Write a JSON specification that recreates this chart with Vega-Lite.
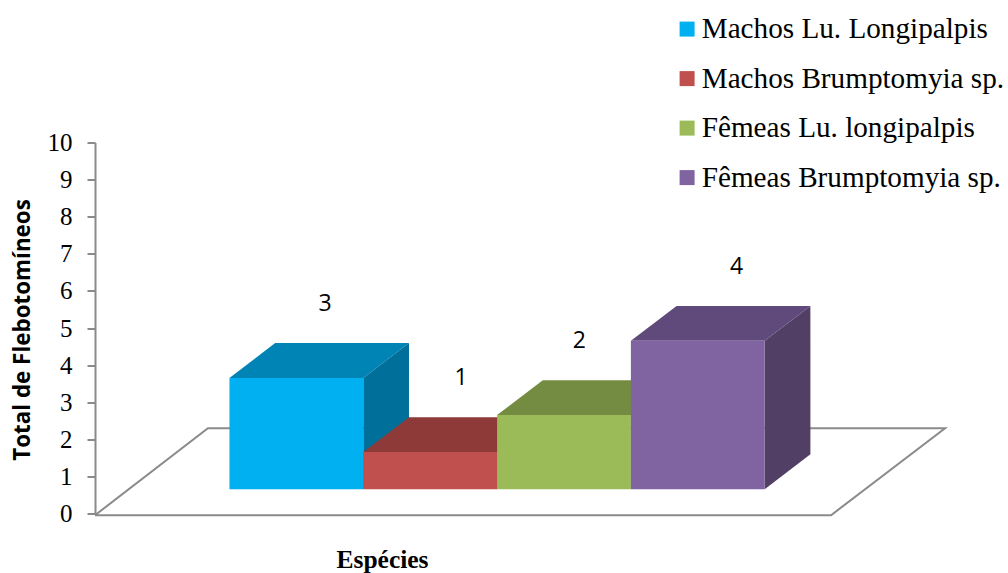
{
  "$schema": "https://vega.github.io/schema/vega-lite/v6.json",
  "width": 908,
  "height": 371,
  "padding": {"left": 95, "top": 142.5, "right": 5, "bottom": 59.5},
  "autosize": {"type": "none"},
  "background": "white",
  "config": {"view": {"stroke": null}},
  "datasets": {
    "floor": [
      {"corner": 1, "x": -1.005, "y": -0.046},
      {"corner": 2, "x": -0.161, "y": 2.3},
      {"corner": 3, "x": 5.348, "y": 2.3},
      {"corner": 4, "x": 4.496, "y": -0.046},
      {"corner": 5, "x": -1.005, "y": -0.046}
    ],
    "bars": [
      {"series": "Machos Lu. Longipalpis", "value": 3, "start": 0, "end": 1, "labelX": 0.715},
      {"series": "Machos Brumptomyia sp.", "value": 1, "start": 1, "end": 2, "labelX": 1.73},
      {"series": "Fêmeas Lu. longipalpis", "value": 2, "start": 2, "end": 3, "labelX": 2.615},
      {"series": "Fêmeas Brumptomyia sp.", "value": 4, "start": 3, "end": 4, "labelX": 3.79}
    ],
    "faces": [
      {"face": "Machos Lu. top", "corner": 1, "x": 0, "y": 3},
      {"face": "Machos Lu. top", "corner": 2, "x": 0.3416, "y": 3.939},
      {"face": "Machos Lu. top", "corner": 3, "x": 1.3416, "y": 3.939},
      {"face": "Machos Lu. top", "corner": 4, "x": 1, "y": 3},
      {"face": "Machos Lu. side", "corner": 1, "x": 1, "y": 3},
      {"face": "Machos Lu. side", "corner": 2, "x": 1.3416, "y": 3.939},
      {"face": "Machos Lu. side", "corner": 3, "x": 1.3416, "y": 0.939},
      {"face": "Machos Lu. side", "corner": 4, "x": 1, "y": 0},
      {"face": "Machos Br. side", "corner": 1, "x": 2, "y": 1},
      {"face": "Machos Br. side", "corner": 2, "x": 2.3416, "y": 1.939},
      {"face": "Machos Br. side", "corner": 3, "x": 2.3416, "y": 0.939},
      {"face": "Machos Br. side", "corner": 4, "x": 2, "y": 0},
      {"face": "Machos Br. top", "corner": 1, "x": 1, "y": 1},
      {"face": "Machos Br. top", "corner": 2, "x": 1.3416, "y": 1.939},
      {"face": "Machos Br. top", "corner": 3, "x": 2.3416, "y": 1.939},
      {"face": "Machos Br. top", "corner": 4, "x": 2, "y": 1},
      {"face": "Fêmeas Lu. side", "corner": 1, "x": 3, "y": 2},
      {"face": "Fêmeas Lu. side", "corner": 2, "x": 3.3416, "y": 2.939},
      {"face": "Fêmeas Lu. side", "corner": 3, "x": 3.3416, "y": 0.939},
      {"face": "Fêmeas Lu. side", "corner": 4, "x": 3, "y": 0},
      {"face": "Fêmeas Lu. top", "corner": 1, "x": 2, "y": 2},
      {"face": "Fêmeas Lu. top", "corner": 2, "x": 2.3416, "y": 2.939},
      {"face": "Fêmeas Lu. top", "corner": 3, "x": 3.3416, "y": 2.939},
      {"face": "Fêmeas Lu. top", "corner": 4, "x": 3, "y": 2},
      {"face": "Fêmeas Br. side", "corner": 1, "x": 4, "y": 4},
      {"face": "Fêmeas Br. side", "corner": 2, "x": 4.3416, "y": 4.939},
      {"face": "Fêmeas Br. side", "corner": 3, "x": 4.3416, "y": 0.939},
      {"face": "Fêmeas Br. side", "corner": 4, "x": 4, "y": 0},
      {"face": "Fêmeas Br. top", "corner": 1, "x": 3, "y": 4},
      {"face": "Fêmeas Br. top", "corner": 2, "x": 3.3416, "y": 4.939},
      {"face": "Fêmeas Br. top", "corner": 3, "x": 4.3416, "y": 4.939},
      {"face": "Fêmeas Br. top", "corner": 4, "x": 4, "y": 4}
    ]
  },
  "encoding": {
    "x": {
      "field": "x",
      "type": "quantitative",
      "scale": {"domain": [-1.005, 5.781], "nice": false, "zero": false},
      "axis": {
        "domain": false,
        "ticks": false,
        "labels": false,
        "grid": false,
        "title": "Espécies",
        "titleFont": "Liberation Serif",
        "titleFontSize": 25.5,
        "titleFontWeight": "bold",
        "titleColor": "#000000",
        "titleX": 287,
        "titleY": 53.5,
        "titleBaseline": "alphabetic"
      }
    },
    "y": {
      "field": "y",
      "type": "quantitative",
      "scale": {"domain": [0, 10], "nice": false, "zero": false},
      "axis": {
        "values": [0, 1, 2, 3, 4, 5, 6, 7, 8, 9, 10],
        "format": "d",
        "grid": false,
        "domainColor": "#8a8a8a",
        "domainWidth": 2,
        "tickColor": "#8a8a8a",
        "tickWidth": 2,
        "tickSize": 8,
        "labelFont": "Liberation Serif",
        "labelFontSize": 25,
        "labelColor": "#000000",
        "labelPadding": 15,
        "title": "Total de Flebotomíneos",
        "titleFont": "Open Sans",
        "titleFontSize": 22.4,
        "titleFontWeight": "bold",
        "titleColor": "#000000",
        "titleX": -73,
        "titleY": 187,
        "titleBaseline": "middle"
      }
    }
  },
  "layer": [
    {
      "data": {"name": "floor"},
      "mark": {"type": "line", "stroke": "#8a8a8a", "strokeWidth": 2, "fill": "#ffffff", "clip": false},
      "encoding": {"order": {"field": "corner", "type": "ordinal"}}
    },
    {
      "data": {"name": "faces"},
      "mark": {"type": "line", "strokeWidth": 0, "yOffset": -24.3, "interpolate": "linear"},
      "encoding": {
        "order": {"field": "corner", "type": "ordinal"},
        "fill": {
          "field": "face",
          "type": "nominal",
          "legend": null,
          "scale": {
            "domain": [
              "Machos Lu. top", "Machos Lu. side",
              "Machos Br. top", "Machos Br. side",
              "Fêmeas Lu. top", "Fêmeas Lu. side",
              "Fêmeas Br. top", "Fêmeas Br. side"
            ],
            "range": [
              "#0084b5", "#006f9a",
              "#8e3a38", "#733130",
              "#748b42", "#5d7035",
              "#604a7b", "#513f66"
            ]
          }
        }
      }
    },
    {
      "data": {"name": "bars"},
      "mark": {"type": "rect", "yOffset": -24.3, "y2Offset": -24.3},
      "encoding": {
        "x": {"field": "start", "type": "quantitative"},
        "x2": {"field": "end"},
        "y": {"field": "value", "type": "quantitative"},
        "y2": {"datum": 0},
        "color": {
          "field": "series",
          "type": "nominal",
          "scale": {
            "domain": ["Machos Lu. Longipalpis", "Machos Brumptomyia sp.", "Fêmeas Lu. longipalpis", "Fêmeas Brumptomyia sp."],
            "range": ["#00b0f0", "#c0504d", "#9bbb59", "#8064a2"]
          },
          "legend": {
            "orient": "none",
            "legendX": 577.5,
            "legendY": -128,
            "title": null,
            "symbolType": "square",
            "symbolSize": 225,
            "symbolStrokeWidth": 0,
            "labelFont": "Liberation Serif",
            "labelFontSize": 29.2,
            "labelColor": "#000000",
            "labelOffset": 0,
            "rowPadding": 19.5,
            "labelLimit": 400
          }
        }
      }
    },
    {
      "data": {"name": "bars"},
      "mark": {"type": "text", "yOffset": -98, "font": "Open Sans", "fontSize": 23, "color": "#000000", "baseline": "middle"},
      "encoding": {
        "x": {"field": "labelX", "type": "quantitative"},
        "y": {"field": "value", "type": "quantitative"},
        "text": {"field": "value", "type": "quantitative"}
      }
    }
  ]
}
